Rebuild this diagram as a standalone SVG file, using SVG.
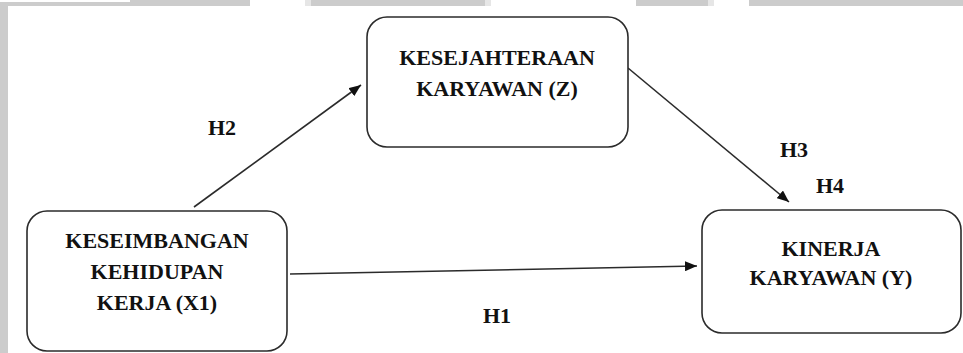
<svg xmlns="http://www.w3.org/2000/svg" width="963" height="353" viewBox="0 0 963 353">
  <style>
    .box { fill: #ffffff; stroke: #2b2b2b; stroke-width: 1.6; }
    .lbl { font-weight: bold; font-size: 22px; fill: #111111; text-anchor: middle; }
    .hyp { font-weight: bold; font-size: 22px; fill: #111111; }
    .edge { stroke: #2b2b2b; stroke-width: 1.6; fill: none; marker-end: url(#arrow); }
    .frame { fill: #cccccc; }
    .frame-light { fill: #e6e6e6; }
  </style>
  <defs>
    <marker id="arrow" viewBox="0 0 12 10" refX="12" refY="5" markerWidth="12" markerHeight="10" markerUnits="userSpaceOnUse" orient="auto">
      <path d="M0,0 L12,5 L0,10 Z" fill="#111111"/>
    </marker>
  </defs>

  <rect width="963" height="353" fill="#ffffff"/>

  <!-- page frame strips -->
  <g id="frame">
    <rect class="frame" x="0" y="2" width="130" height="4"/>
    <rect class="frame" x="130" y="0" width="120" height="6"/>
    <rect class="frame-light" x="305" y="0" width="6" height="6"/>
    <rect class="frame" x="311" y="0" width="174" height="6"/>
    <rect class="frame-light" x="485" y="0" width="6" height="6"/>
    <rect class="frame" x="636" y="0" width="72" height="6"/>
    <rect class="frame-light" x="708" y="0" width="6" height="6"/>
    <rect class="frame" x="749" y="0" width="214" height="6"/>
    <rect class="frame" x="0" y="2" width="8" height="351"/>
  </g>

  <g font-family="'Liberation Serif', 'Times New Roman', 'DejaVu Serif', serif">
    <!-- connectors -->
    <g id="connectors">
      <line class="edge" x1="194" y1="207" x2="361" y2="85"/>
      <line class="edge" x1="628" y1="68" x2="789" y2="202"/>
      <line class="edge" x1="290" y1="274" x2="697" y2="266"/>
      <text class="hyp" x="208" y="135">H2</text>
      <text class="hyp" x="780" y="157">H3</text>
      <text class="hyp" x="816" y="193">H4</text>
      <text class="hyp" x="483" y="323">H1</text>
    </g>

    <g id="node-x1">
      <rect class="box" x="27" y="211" width="260" height="140" rx="20" ry="20"/>
      <text class="lbl" x="157" y="248">KESEIMBANGAN</text>
      <text class="lbl" x="157" y="279">KEHIDUPAN</text>
      <text class="lbl" x="157" y="310">KERJA (X1)</text>
    </g>

    <g id="node-z">
      <rect class="box" x="367" y="17" width="261" height="130" rx="20" ry="20"/>
      <text class="lbl" x="497" y="65">KESEJAHTERAAN</text>
      <text class="lbl" x="497" y="96">KARYAWAN (Z)</text>
    </g>

    <g id="node-y">
      <rect class="box" x="702" y="210" width="259" height="123" rx="20" ry="20"/>
      <text class="lbl" x="831" y="256">KINERJA</text>
      <text class="lbl" x="831" y="285">KARYAWAN (Y)</text>
    </g>
  </g>
</svg>
